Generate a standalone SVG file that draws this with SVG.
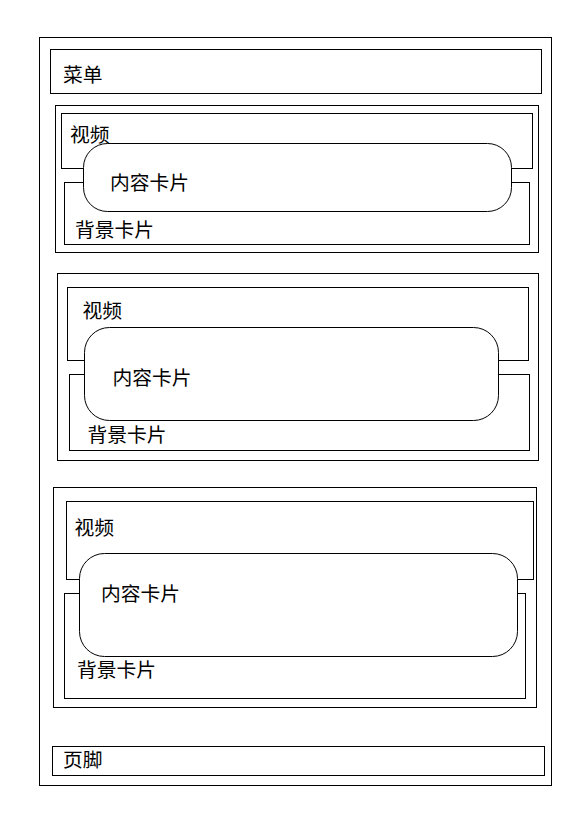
<svg xmlns="http://www.w3.org/2000/svg" width="580" height="816" viewBox="0 0 580 816">
<style>
.box{fill:#fff;stroke:#000;stroke-width:1}
.card{fill:#fff;stroke:#000;stroke-width:1}
.t{font-family:"Noto Sans CJK SC","Noto Sans",sans-serif;font-size:19.8px;fill:#000}
</style>
<rect width="580" height="816" fill="#fff"/>
<g id="page"><rect class="box" x="39.5" y="37.5" width="512" height="748"/></g>
<g id="menu"><rect class="box" x="50.5" y="49.5" width="491" height="44"/><text class="t" x="63" y="82">菜单</text></g>

<g id="section1">
<rect class="box" x="55.5" y="105.5" width="483" height="147"/>
<g id="video1"><rect class="box" x="61.5" y="113.5" width="471" height="55"/><text class="t" x="70" y="142">视频</text></g>
<g id="bg1"><rect class="box" x="64.5" y="182.5" width="465" height="62"/><text class="t" x="75" y="236.5">背景卡片</text></g>
<g id="content1"><rect class="card" x="83.5" y="143.5" width="428" height="68" rx="24" ry="24"/><text class="t" x="110" y="189.5">内容卡片</text></g>
</g>

<g id="section2">
<rect class="box" x="57.5" y="273.5" width="481" height="187"/>
<g id="video2"><rect class="box" x="67.5" y="287.5" width="461" height="73"/><text class="t" x="82.5" y="317.5">视频</text></g>
<g id="bg2"><rect class="box" x="69.5" y="374.5" width="460" height="76"/><text class="t" x="87.5" y="441.5">背景卡片</text></g>
<g id="content2"><rect class="card" x="84.5" y="327.5" width="414" height="93" rx="25" ry="25"/><text class="t" x="112.5" y="385">内容卡片</text></g>
</g>

<g id="section3">
<rect class="box" x="53.5" y="487.5" width="483" height="220"/>
<g id="video3"><rect class="box" x="66.5" y="501.5" width="467" height="78"/><text class="t" x="74.5" y="535">视频</text></g>
<g id="bg3"><rect class="box" x="64.5" y="593.5" width="461" height="105"/><text class="t" x="77" y="677">背景卡片</text></g>
<g id="content3"><rect class="card" x="79.5" y="553.5" width="438" height="103" rx="25" ry="25"/><text class="t" x="101" y="601">内容卡片</text></g>
</g>

<g id="footer"><rect class="box" x="52.5" y="746.5" width="492" height="29"/><text class="t" x="63" y="767">页脚</text></g>
<g id="connectors"></g>
</svg>
